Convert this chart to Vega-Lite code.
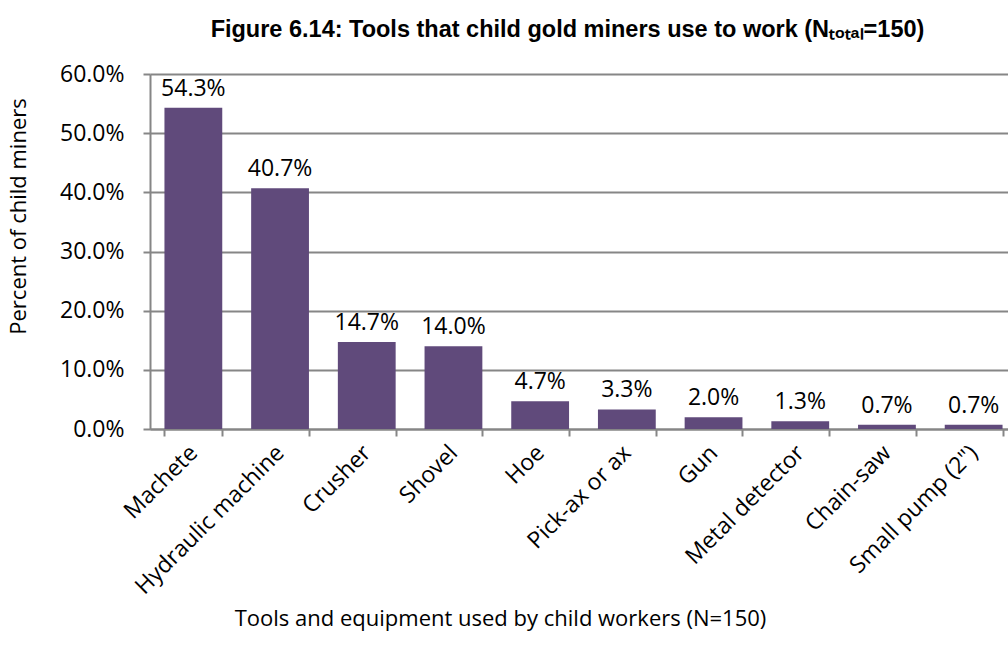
{
  "$schema": "https://vega.github.io/schema/vega-lite/v6.json",
  "autosize": {"type": "none"},
  "width": 867,
  "height": 355,
  "padding": {"left": 150, "top": 74, "right": -9, "bottom": 227},
  "background": "white",
  "title": {
    "text": "Figure 6.14: Tools that child gold miners use to work (Nₜₒₜₐₗ=150)",
    "font": "Liberation Sans",
    "fontSize": 23.5,
    "fontWeight": "bold",
    "color": "#000000",
    "anchor": "middle",
    "frame": "group",
    "baseline": "alphabetic",
    "offset": 3,
    "dx": -16
  },
  "data": {
    "values": [
      {"tool": "Machete", "share": 0.543},
      {"tool": "Hydraulic machine", "share": 0.407},
      {"tool": "Crusher", "share": 0.147},
      {"tool": "Shovel", "share": 0.14},
      {"tool": "Hoe", "share": 0.047},
      {"tool": "Pick-ax or ax", "share": 0.033},
      {"tool": "Gun", "share": 0.02},
      {"tool": "Metal detector", "share": 0.013},
      {"tool": "Chain-saw", "share": 0.007},
      {"tool": "Small pump (2\")", "share": 0.007}
    ]
  },
  "encoding": {
    "x": {
      "field": "tool",
      "type": "nominal",
      "sort": null,
      "scale": {"paddingInner": 0.3333, "paddingOuter": 0.1667},
      "axis": {
        "title": "Tools and equipment used by child workers (N=150)",
        "titleFont": "Open Sans",
        "titleFontSize": 22,
        "titleFontWeight": "normal",
        "titleColor": "#000000",
        "titleX": 350,
        "titleY": 196,
        "titleBaseline": "alphabetic",
        "titleAlign": "center",
        "labelFont": "Open Sans",
        "labelFontSize": 23,
        "labelColor": "#000000",
        "labelAngle": -45,
        "labelAlign": "right",
        "labelBaseline": "middle",
        "labelPadding": 13,
        "labelOverlap": false,
        "labelLimit": 400,
        "tickBand": "extent",
        "tickSize": 7,
        "tickColor": "#868686",
        "tickWidth": 2,
        "domainColor": "#868686",
        "domainWidth": 2,
        "grid": false
      }
    },
    "y": {
      "field": "share",
      "type": "quantitative",
      "scale": {"domain": [0, 0.6], "nice": false},
      "axis": {
        "title": "Percent of child miners",
        "titleFont": "Open Sans",
        "titleFontSize": 22,
        "titleFontWeight": "normal",
        "titleColor": "#000000",
        "titleAngle": -90,
        "titleX": -132,
        "titleY": 142,
        "titleAlign": "center",
        "titleBaseline": "middle",
        "values": [0, 0.1, 0.2, 0.3, 0.4, 0.5, 0.6],
        "format": ".1%",
        "labelFont": "Open Sans",
        "labelFontSize": 23,
        "labelColor": "#000000",
        "labelPadding": 19,
        "tickSize": 7,
        "tickColor": "#868686",
        "tickWidth": 2,
        "domainColor": "#868686",
        "domainWidth": 2,
        "grid": true,
        "gridColor": "#868686",
        "gridWidth": 2
      }
    }
  },
  "layer": [
    {
      "mark": {"type": "bar", "color": "#604a7b"}
    },
    {
      "mark": {
        "type": "text",
        "font": "Open Sans",
        "fontSize": 23,
        "color": "#000000",
        "align": "center",
        "baseline": "alphabetic",
        "dy": -12
      },
      "encoding": {
        "text": {"field": "share", "type": "quantitative", "format": ".1%"}
      }
    }
  ],
  "config": {
    "view": {"stroke": null}
  }
}
